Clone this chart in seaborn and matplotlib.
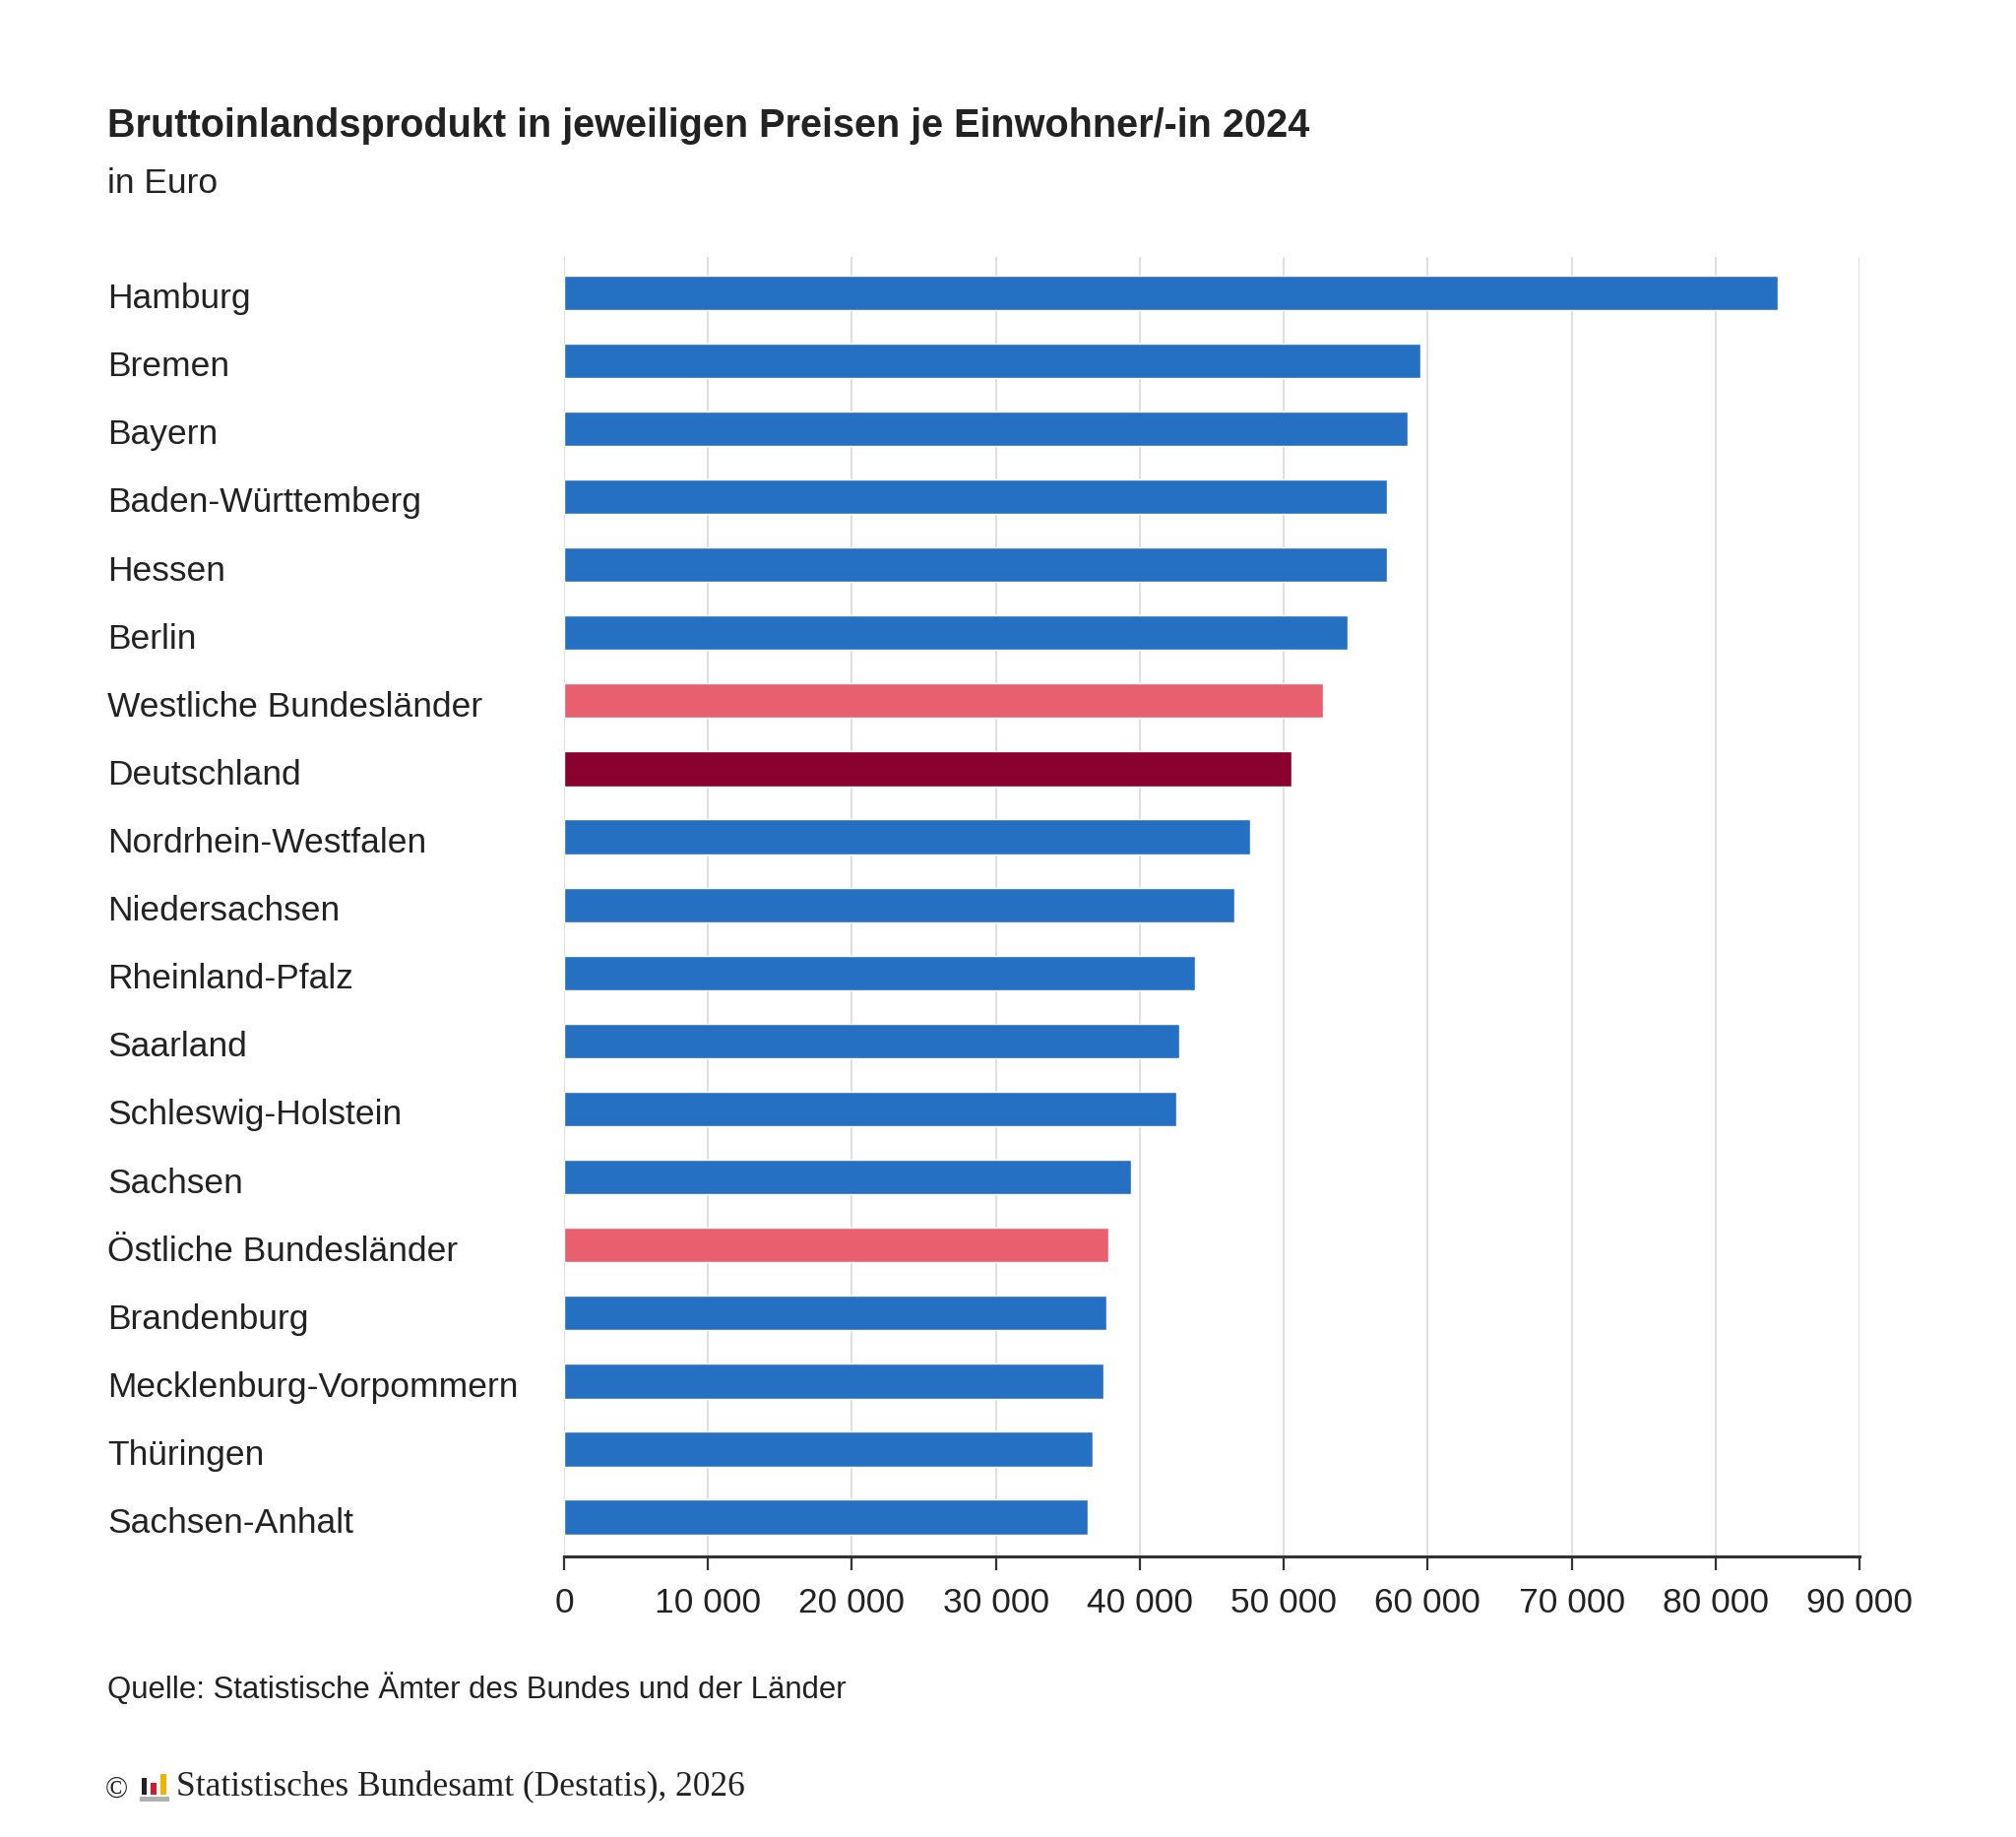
import matplotlib
matplotlib.use('Agg')
import matplotlib.pyplot as plt
import matplotlib.patches as mpatches
import matplotlib.transforms as mtransforms
import seaborn as sns
import pandas as pd

laender = ['Hamburg', 'Bremen', 'Bayern', 'Baden-Württemberg', 'Hessen', 'Berlin',
           'Westliche Bundesländer', 'Deutschland', 'Nordrhein-Westfalen', 'Niedersachsen',
           'Rheinland-Pfalz', 'Saarland', 'Schleswig-Holstein', 'Sachsen',
           'Östliche Bundesländer', 'Brandenburg', 'Mecklenburg-Vorpommern', 'Thüringen',
           'Sachsen-Anhalt']
bip = [84300, 59500, 58600, 57150, 57150, 54400, 52750, 50550, 47650, 46550,
       43800, 42750, 42550, 39400, 37800, 37650, 37450, 36750, 36350]
gruppe = ['land'] * 6 + ['ost_west', 'de'] + ['land'] * 6 + ['ost_west'] + ['land'] * 4
x_ticks = [0, 10000, 20000, 30000, 40000, 50000, 60000, 70000, 80000, 90000]
x_labels = ['0', '10 000', '20 000', '30 000', '40 000', '50 000', '60 000',
            '70 000', '80 000', '90 000']

farben = {'land': '#2670c4', 'ost_west': '#e8606f', 'de': '#8a002e'}
df = pd.DataFrame({'land': laender, 'bip': bip, 'gruppe': gruppe})

sns.set_style('white')
plt.rcParams['font.family'] = ['Liberation Sans', 'DejaVu Sans']

fig = plt.figure(figsize=(20.48, 18.66), dpi=100)
ax = fig.add_axes([0.2798, 0.153, 0.6426, 0.707])

sns.barplot(data=df, x='bip', y='land', hue='gruppe', palette=farben, dodge=False,
            orient='h', width=0.51, legend=False, ax=ax, saturation=1)

ax.set_xlim(0, 90000)
ax.set_ylim(18.57, -0.52)
ax.set_xticks(x_ticks)
ax.set_xticklabels(x_labels, fontsize=25.5, color='#222222')
ax.set_xlabel('')
ax.set_ylabel('')
ax.grid(axis='x', color='#d9d9d9', linewidth=1.2)
ax.set_axisbelow(True)
for s in ['top', 'right', 'left']:
    ax.spines[s].set_visible(False)
ax.spines['bottom'].set_color('#333333')
ax.spines['bottom'].set_linewidth(2.2)
ax.tick_params(axis='x', length=10, width=1.6, color='#333333', pad=13, direction='out',
               bottom=True)
ax.tick_params(axis='y', length=0, pad=334, labelsize=25.5, labelcolor='#222222')
shift = mtransforms.ScaledTranslation(0, -3 / 100, fig.dpi_scale_trans)
for lbl in ax.get_yticklabels():
    lbl.set_horizontalalignment('left')
    lbl.set_transform(lbl.get_transform() + shift)

fig.text(109 / 2048, 1 - 128 / 1866, 'Bruttoinlandsprodukt in jeweiligen Preisen je Einwohner/-in 2024',
         fontsize=28.5, fontweight='bold', color='#222222', va='center', ha='left')
fig.text(109 / 2048, 1 - 187 / 1866, 'in Euro', fontsize=25.5, color='#222222',
         va='center', ha='left')
fig.text(109 / 2048, 1 - 1716 / 1866, 'Quelle: Statistische Ämter des Bundes und der Länder',
         fontsize=22.4, color='#222222', va='center', ha='left')
fig.text(107 / 2048, 1 - 1818 / 1866, '©', fontsize=22, color='#222222', va='center', ha='left',
         family=['Liberation Serif', 'DejaVu Serif'])
fig.text(179 / 2048, 1 - 1816 / 1866, 'Statistisches Bundesamt (Destatis), 2026',
         fontsize=25.5, color='#222222', va='center', ha='left',
         family=['Liberation Serif', 'DejaVu Serif'])

# kleines Logo
W, H = 2048, 1866
logo = [(142, 1825, 30, 5, '#b0b0b0'), (144, 1806, 5, 17, '#222222'),
        (153, 1811, 6, 12, '#d01c2c'), (163, 1802, 6, 21, '#f0b400')]
for x, y, w, h, c in logo:
    fig.patches.append(mpatches.Rectangle((x / W, 1 - (y + h) / H), w / W, h / H,
                                          transform=fig.transFigure, color=c, lw=0))

fig.savefig('out.png', dpi=100, facecolor='white')
